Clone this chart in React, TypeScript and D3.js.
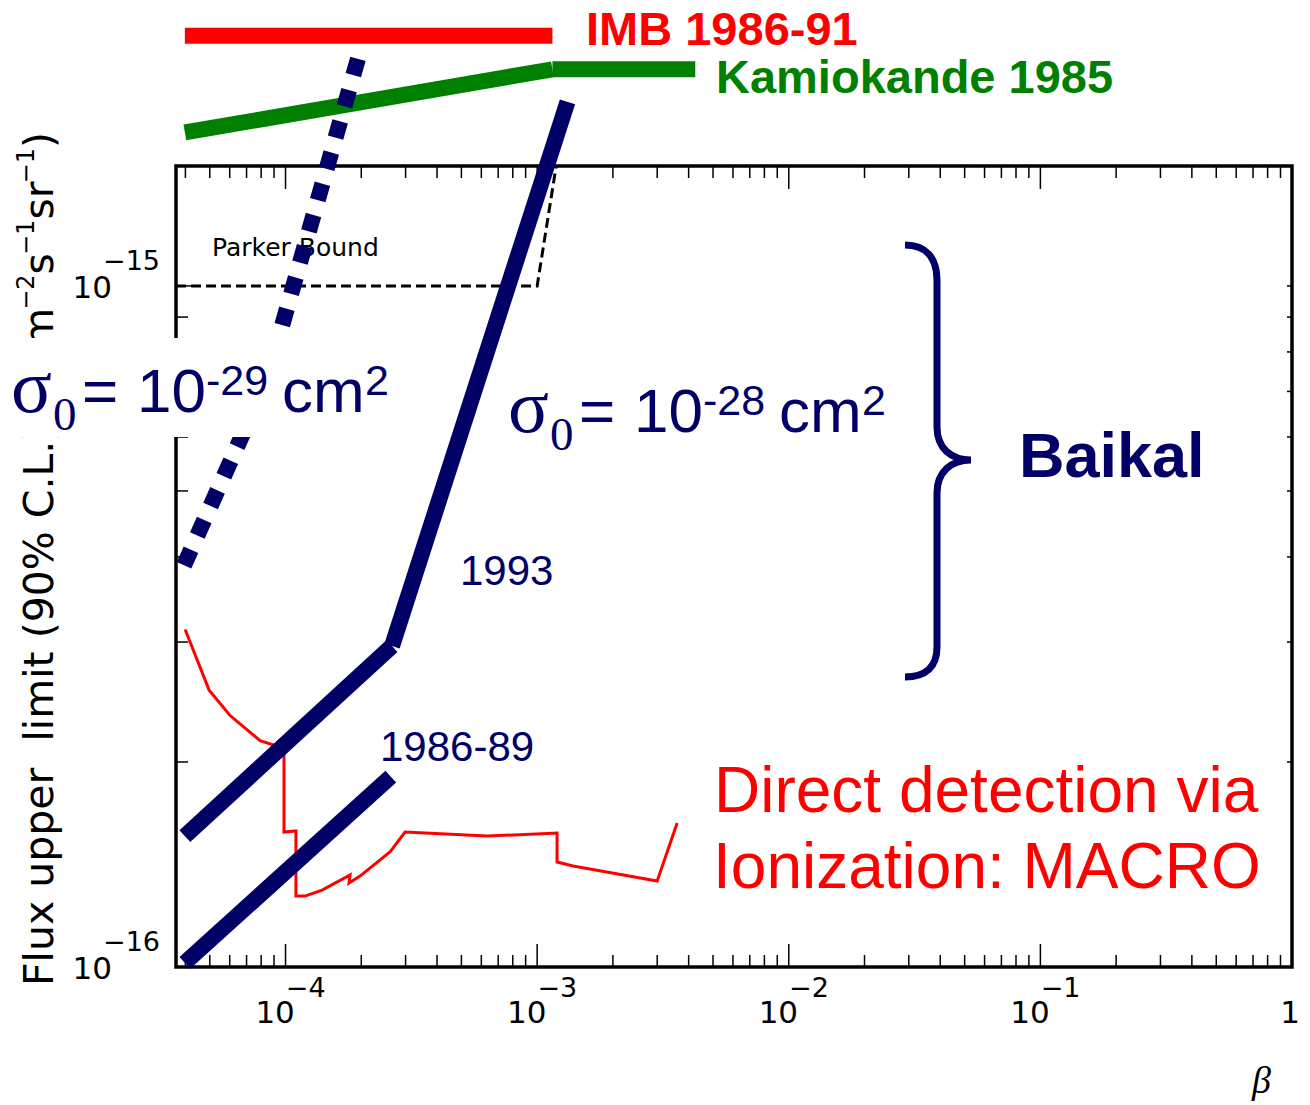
import React from 'react';
import * as d3 from 'd3';

// ---------- data (β, flux in cm^-2 s^-1 sr^-1) ----------
const betaDomain = [3.67e-5, 1];
const fluxDomain = [1e-16, 1.5e-15];

const imbBeta = [3.98e-5, 1.15e-3];
const imbFlux = [2.33e-15, 2.33e-15];

const kamBeta = [3.98e-5, 1.15e-3, 4.25e-3];
const kamFlux = [1.68e-15, 2.08e-15, 2.08e-15];

const baikal93Beta = [3.98e-5, 2.65e-4, 1.32e-3];
const baikal93Flux = [1.557e-16, 2.96e-16, 1.863e-15];

const baikal8689Beta = [3.98e-5, 2.62e-4];
const baikal8689Flux = [1.014e-16, 1.903e-16];

const sigma29Beta = [1.94e-4, 8.37e-5, 3.95e-5];
const sigma29Flux = [2.155e-15, 7.23e-16, 3.89e-16];

const parkerBeta = [3.67e-5, 1.0e-3, 1.19e-3];
const parkerFlux = [1e-15, 1e-15, 1.5e-15];

const macroBeta = [3.99e-5, 4.97e-5, 6.02e-5, 7.92e-5, 8.92e-5, 9.86e-5, 9.86e-5, 1.10e-4, 1.10e-4, 1.195e-4, 1.397e-4, 1.805e-4, 1.788e-4, 1.977e-4, 2.60e-4, 2.985e-4, 6.32e-4, 1.2e-3, 1.2e-3, 1.389e-3, 3.0e-3, 3.6e-3];
const macroFlux = [3.13e-16, 2.55e-16, 2.34e-16, 2.15e-16, 2.12e-16, 2.06e-16, 1.578e-16, 1.584e-16, 1.271e-16, 1.271e-16, 1.297e-16, 1.365e-16, 1.328e-16, 1.36e-16, 1.475e-16, 1.578e-16, 1.557e-16, 1.573e-16, 1.426e-16, 1.407e-16, 1.337e-16, 1.627e-16];

const xMajorTicks = [1e-4, 1e-3, 1e-2, 1e-1, 1];
const xTickExps = ['−4', '−3', '−2', '−1', ''];
const yMajorTicks = [1e-16, 1e-15];
const yTickExps = ['−16', '−15'];

// ---------- styles ----------
const NAVY = '#000066';
const RED = '#ff0000';
const GREEN = '#008000';
const axisFont = "'DejaVu Sans', sans-serif";
const annFont = "'Liberation Sans', Arial, sans-serif";
const serifFont = "'Liberation Serif', 'Times New Roman', serif";

const W = 1310, H = 1105;
const x = d3.scaleLog().domain(betaDomain).range([176, 1292]);
const y = d3.scaleLog().domain(fluxDomain).range([967, 166]);

const zip = (a: number[], b: number[]) => a.map((v, i) => [v, b[i]] as [number, number]);
const line = d3.line<[number, number]>().x(d => x(d[0])).y(d => y(d[1]));

function segments(bs: number[], fs: number[]) {
  const pts = zip(bs, fs);
  const out: [number, number][][] = [];
  for (let i = 0; i < pts.length - 1; i++) out.push([pts[i], pts[i + 1]]);
  return out;
}

const xMinor: number[] = [];
for (let e = -5; e <= -1; e++) for (let k = 2; k <= 9; k++) {
  const v = k * Math.pow(10, e);
  if (v > betaDomain[0] && v < betaDomain[1]) xMinor.push(v);
}
const yMinor: number[] = [];
for (let k = 2; k <= 9; k++) yMinor.push(k * 1e-16);

function SigmaLabel({ ox, oy, exp }: { ox: number; oy: number; exp: string }) {
  return (
    <g transform={`translate(${ox},${oy})`} fill={NAVY}>
      <text x={0} y={0} fontFamily={serifFont} fontSize={76}>σ</text>
      <text x={42} y={18} fontFamily={serifFont} fontSize={47}>0</text>
      <text x={71} y={0} fontFamily={annFont} fontSize={62}>=</text>
      <text x={126} y={0} fontFamily={annFont} fontSize={62}>10</text>
      <text x={195} y={-17} fontFamily={annFont} fontSize={43}>{exp}</text>
      <text x={271} y={0} fontFamily={annFont} fontSize={62}>cm</text>
      <text x={354} y={-17} fontFamily={annFont} fontSize={43}>2</text>
    </g>
  );
}

export default function App() {
  const [x0, x1] = x.range();
  const [y0, y1] = y.range(); // y0 bottom, y1 top

  // dotted sigma=1e-29 line: dash pattern fitted to 17 squares
  const sPts = zip(sigma29Beta, sigma29Flux).map(p => [x(p[0]), y(p[1])]);
  let sLen = 0;
  for (let i = 1; i < sPts.length; i++) sLen += Math.hypot(sPts[i][0] - sPts[i - 1][0], sPts[i][1] - sPts[i - 1][1]);
  const nDash = 17, dashL = 17;
  const gapL = (sLen - nDash * dashL) / (nDash - 1);

  const supOff = -28;

  return (
    <svg width={W} height={H} style={{ position: 'absolute', left: 0, top: 0, background: '#fff' }}>
      <rect x={0} y={0} width={W} height={H} fill="#fff" />

      {/* Parker bound */}
      <path d={line(zip(parkerBeta, parkerFlux)) || ''} fill="none" stroke="#000" strokeWidth={3} strokeDasharray="10 5" />
      <text x={212} y={256} fontFamily={axisFont} fontSize={25} fill="#000">Parker Bound</text>

      {/* MACRO */}
      <path d={line(zip(macroBeta, macroFlux)) || ''} fill="none" stroke={RED} strokeWidth={3} strokeLinejoin="miter" />

      {/* frame */}
      <rect x={x0} y={y1} width={x1 - x0} height={y0 - y1} fill="none" stroke="#000" strokeWidth={3.5} />
      {/* x ticks */}
      {xMajorTicks.map(t => (
        <g key={'xM' + t}>
          <line x1={x(t)} x2={x(t)} y1={y0} y2={y0 - 23} stroke="#000" strokeWidth={1.5} />
          <line x1={x(t)} x2={x(t)} y1={y1} y2={y1 + 23} stroke="#000" strokeWidth={1.5} />
        </g>
      ))}
      {xMinor.map(t => (
        <g key={'xm' + t}>
          <line x1={x(t)} x2={x(t)} y1={y0} y2={y0 - 12} stroke="#000" strokeWidth={1.5} />
          <line x1={x(t)} x2={x(t)} y1={y1} y2={y1 + 12} stroke="#000" strokeWidth={1.5} />
        </g>
      ))}
      {/* y ticks */}
      {yMajorTicks.map(t => (
        <g key={'yM' + t}>
          <line x1={x0} x2={x0 + 23} y1={y(t)} y2={y(t)} stroke="#000" strokeWidth={1.5} />
          <line x1={x1} x2={x1 - 5} y1={y(t)} y2={y(t)} stroke="#000" strokeWidth={1.5} />
        </g>
      ))}
      {yMinor.map(t => (
        <g key={'ym' + t}>
          <line x1={x0} x2={x0 + 12} y1={y(t)} y2={y(t)} stroke="#000" strokeWidth={1.5} />
          <line x1={x1} x2={x1 - 5} y1={y(t)} y2={y(t)} stroke="#000" strokeWidth={1.5} />
        </g>
      ))}

      {/* x tick labels */}
      {xMajorTicks.map((t, i) => (
        <text key={'xl' + t} x={x(t) + (xTickExps[i] ? 5 : -2)} y={y0 + 56} textAnchor="middle" fontFamily={axisFont} fontSize={31} fill="#000">
          {xTickExps[i] ? '10' : '1'}
          {xTickExps[i] ? <tspan dx={-9} dy={-26} fontSize={27}>{xTickExps[i]}</tspan> : null}
        </text>
      ))}
      {/* y tick labels */}
      {yMajorTicks.map((t, i) => (
        <text key={'yl' + t} x={160} y={y(t) + 12} textAnchor="end" fontFamily={axisFont} fontSize={31} fill="#000">
          10<tspan dx={-9} dy={supOff} fontSize={27}>{yTickExps[i]}</tspan>
        </text>
      ))}

      {/* y axis title */}
      <text transform="translate(53,986) rotate(-90)" fontFamily={axisFont} fontSize={41} fill="#000" style={{ whiteSpace: 'pre' }}>
        Flux upper  limit (90% C.L.)
      </text>
      <text transform="translate(53,132) rotate(-90)" textAnchor="end" fontFamily={axisFont} fontSize={41} fill="#000">
        (cm<tspan dx={-2} dy={-19} fontSize={24}>−2</tspan>
        <tspan dy={19} fontSize={41}>s</tspan>
        <tspan dx={-2} dy={-19} fontSize={24}>−1</tspan>
        <tspan dy={19} fontSize={41}>sr</tspan>
        <tspan dx={-2} dy={-19} fontSize={24}>−1</tspan>
        <tspan dy={19} fontSize={41}>)</tspan>
      </text>

      {/* x axis title */}
      <text x={1252} y={1093} fontFamily={serifFont} fontStyle="italic" fontSize={38} fill="#000">β</text>

      {/* Baikal lines */}
      {segments(baikal93Beta, baikal93Flux).map((s, i) => (
        <path key={'b93' + i} d={line(s) || ''} stroke={NAVY} strokeWidth={16} fill="none" strokeLinecap="butt" />
      ))}
      {segments(baikal8689Beta, baikal8689Flux).map((s, i) => (
        <path key={'b86' + i} d={line(s) || ''} stroke={NAVY} strokeWidth={16} fill="none" strokeLinecap="butt" />
      ))}

      {/* IMB and Kamiokande */}
      {segments(imbBeta, imbFlux).map((s, i) => (
        <path key={'imb' + i} d={line(s) || ''} stroke={RED} strokeWidth={16} fill="none" strokeLinecap="butt" />
      ))}
      {segments(kamBeta, kamFlux).map((s, i) => (
        <path key={'kam' + i} d={line(s) || ''} stroke={GREEN} strokeWidth={16} fill="none" strokeLinecap="butt" />
      ))}

      {/* sigma 1e-29 dotted */}
      <path d={line(zip(sigma29Beta, sigma29Flux)) || ''} stroke={NAVY} strokeWidth={16} fill="none"
        strokeLinecap="butt" strokeLinejoin="miter" strokeDasharray={`${dashL} ${gapL}`} />

      {/* label box for sigma 1e-29 */}
      <rect x={0} y={338} width={395} height={99} fill="#fff" />
      <SigmaLabel ox={11} oy={412} exp="-29" />
      <SigmaLabel ox={508} oy={432} exp="-28" />

      <text x={460} y={585} fontFamily={annFont} fontSize={42} fill={NAVY}>1993</text>
      <text x={380} y={761} fontFamily={annFont} fontSize={42} fill={NAVY}>1986-89</text>

      {/* Baikal brace */}
      <path d="M905,245 C926,245 937,258 937,280 L937,427 C937,448 951,460 971,460 C951,460 937,472 937,493 L937,647 C937,667 926,677 905,677"
        fill="none" stroke={NAVY} strokeWidth={7} />
      <text x={1019} y={477} fontFamily={annFont} fontWeight="bold" fontSize={63} fill={NAVY}>Baikal</text>

      <text x={714} y={812} fontFamily={annFont} fontSize={64} fill={RED}>Direct detection via</text>
      <text x={713} y={888} fontFamily={annFont} fontSize={64} fill={RED}>Ionization: MACRO</text>

      <text x={586} y={45} fontFamily={annFont} fontWeight="bold" fontSize={47} fill={RED}>IMB 1986-91</text>
      <text x={716} y={93} fontFamily={annFont} fontWeight="bold" fontSize={47} fill={GREEN}>Kamiokande 1985</text>
    </svg>
  );
}
